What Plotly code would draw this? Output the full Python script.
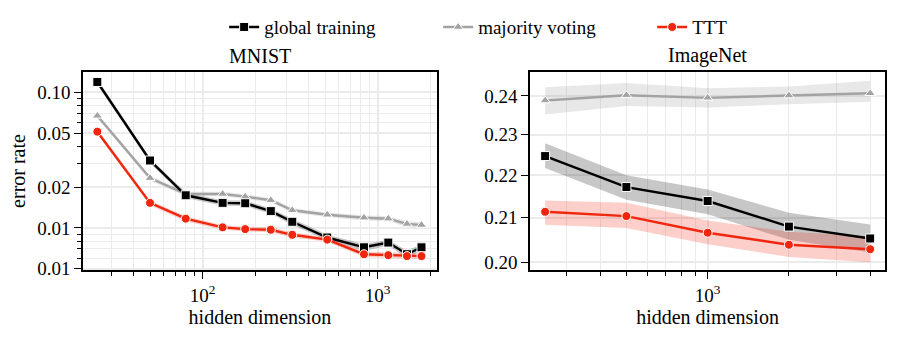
import plotly.graph_objects as go
from plotly.subplots import make_subplots

# MNIST panel
mnist_dims = [25, 50, 80, 130, 175, 245, 325, 515, 835, 1150, 1470, 1780]
mnist_global = [0.119, 0.0314, 0.0174, 0.0153, 0.0152, 0.0133, 0.0111, 0.0085, 0.0072, 0.0078, 0.0064, 0.0072]
mnist_global_lo = [0.114, 0.0300, 0.0166, 0.0146, 0.0145, 0.0127, 0.0105, 0.0081, 0.0068, 0.0074, 0.0060, 0.0068]
mnist_global_hi = [0.124, 0.0328, 0.0182, 0.0160, 0.0159, 0.0139, 0.0117, 0.0089, 0.0076, 0.0082, 0.0068, 0.0076]
mnist_major = [0.067, 0.0233, 0.0178, 0.0178, 0.0170, 0.0160, 0.0135, 0.0125, 0.0119, 0.0117, 0.0107, 0.0105]
mnist_major_lo = [0.0645, 0.0224, 0.0171, 0.0171, 0.0163, 0.0154, 0.0130, 0.0120, 0.0114, 0.0112, 0.0102, 0.0100]
mnist_major_hi = [0.0695, 0.0242, 0.0185, 0.0185, 0.0177, 0.0166, 0.0140, 0.0130, 0.0124, 0.0122, 0.0112, 0.0110]
mnist_ttt = [0.0512, 0.0153, 0.0117, 0.0101, 0.0098, 0.0097, 0.0089, 0.0082, 0.0064, 0.0063, 0.0062, 0.0062]
mnist_ttt_lo = [0.0492, 0.0147, 0.0112, 0.0097, 0.0094, 0.0093, 0.0085, 0.0079, 0.0061, 0.0060, 0.0059, 0.0059]
mnist_ttt_hi = [0.0532, 0.0159, 0.0122, 0.0105, 0.0102, 0.0101, 0.0093, 0.0085, 0.0067, 0.0066, 0.0065, 0.0065]

# ImageNet panel
imnet_dims = [250, 500, 1000, 2000, 4000]
imnet_global = [0.2247, 0.2172, 0.2139, 0.2080, 0.2053]
imnet_global_lo = [0.2218, 0.2142, 0.2108, 0.2050, 0.2022]
imnet_global_hi = [0.2279, 0.2200, 0.2166, 0.2112, 0.2085]
imnet_major = [0.2388, 0.2402, 0.2395, 0.2401, 0.2407]
imnet_major_lo = [0.2352, 0.2374, 0.2370, 0.2378, 0.2385]
imnet_major_hi = [0.2423, 0.2434, 0.2420, 0.2425, 0.2440]
imnet_ttt = [0.2114, 0.2104, 0.2066, 0.2039, 0.2029]
imnet_ttt_lo = [0.2084, 0.2077, 0.2040, 0.2012, 0.2000]
imnet_ttt_hi = [0.2140, 0.2135, 0.2094, 0.2068, 0.2058]

series_names = ["global training", "majority voting", "TTT"]
line_colors = ["#000000", "#a3a3a3", "#f0260e"]
band_colors = ["rgba(0,0,0,0.22)", "rgba(150,150,150,0.22)", "rgba(240,38,14,0.22)"]
symbols = ["square", "triangle-up", "circle"]

mnist_y_ticks = [0.1, 0.05, 0.02, 0.01, 0.005]
mnist_y_text = ["0.10", "0.05", "0.02", "0.01", "0.01"]
imnet_y_ticks = [0.20, 0.21, 0.22, 0.23, 0.24]

FONT = "Liberation Serif, Times New Roman, serif"
GRID = "#ebebeb"

fig = make_subplots(rows=1, cols=2, subplot_titles=["MNIST", "ImageNet"])

panels = [
    (1, mnist_dims,
     [mnist_global, mnist_major, mnist_ttt],
     [mnist_global_lo, mnist_major_lo, mnist_ttt_lo],
     [mnist_global_hi, mnist_major_hi, mnist_ttt_hi]),
    (2, imnet_dims,
     [imnet_global, imnet_major, imnet_ttt],
     [imnet_global_lo, imnet_major_lo, imnet_ttt_lo],
     [imnet_global_hi, imnet_major_hi, imnet_ttt_hi]),
]

for col, dims, vals, los, his in panels:
    # bands first so lines sit on top
    for i in [1, 0, 2]:
        fig.add_trace(
            go.Scatter(
                x=dims + dims[::-1],
                y=his[i] + los[i][::-1],
                fill="toself",
                fillcolor=band_colors[i],
                line=dict(width=0),
                mode="lines",
                hoverinfo="skip",
                showlegend=False,
            ),
            row=1, col=col,
        )
    for i in [1, 0, 2]:
        fig.add_trace(
            go.Scatter(
                x=dims,
                y=vals[i],
                name=series_names[i],
                mode="lines+markers",
                line=dict(color=line_colors[i], width=2.4),
                marker=dict(symbol=symbols[i], size=9,
                            color=line_colors[i],
                            line=dict(color="white", width=1)),
                showlegend=(col == 1),
                legendrank=i,
            ),
            row=1, col=col,
        )

axis_common = dict(
    showline=True, linecolor="black", linewidth=1.5, mirror=True,
    ticks="outside", ticklen=7, tickwidth=1.3, tickcolor="black",
    showgrid=True, gridcolor=GRID, gridwidth=1.5, zeroline=False,
    automargin=False,
    tickfont=dict(family=FONT, size=19, color="black"),
)
title_font = dict(family=FONT, size=20, color="black")
minor_style = dict(ticks="outside", ticklen=4, tickwidth=1, tickcolor="black",
                   showgrid=True, gridcolor=GRID, gridwidth=1.2)

fig.update_xaxes(
    axis_common, type="log", row=1, col=1,
    domain=[0.0, 0.4414],
    range=[1.316, 3.339],
    tickvals=[100, 1000], ticktext=["10<sup>2</sup>", "10<sup>3</sup>"],
    minor=dict(minor_style, tickvals=[30, 40, 50, 60, 70, 80, 90, 200, 300, 400, 500, 600, 700, 800, 900, 2000]),
    title=dict(text="hidden dimension", font=title_font, standoff=5),
)
fig.update_xaxes(
    axis_common, type="log", row=1, col=2,
    domain=[0.5574, 1.0],
    range=[2.342, 3.657],
    tickvals=[1000], ticktext=["10<sup>3</sup>"],
    minor=dict(minor_style, tickvals=[300, 400, 500, 600, 700, 800, 900, 2000, 3000, 4000]),
    title=dict(text="hidden dimension", font=title_font, standoff=5),
)
fig.update_yaxes(
    axis_common, type="log", row=1, col=1,
    domain=[0.0, 1.0],
    range=[-2.31, -0.851],
    tickvals=mnist_y_ticks, ticktext=mnist_y_text,
    minor=dict(minor_style, tickvals=[0.006, 0.007, 0.008, 0.009, 0.03, 0.04, 0.06, 0.07, 0.08, 0.09]),
    title=dict(text="error rate", font=title_font, standoff=6),
)
fig.update_yaxes(
    axis_common, type="log", row=1, col=2,
    domain=[0.0, 1.0],
    range=[-0.7026, -0.6084],
    tickvals=imnet_y_ticks, ticktext=["0.20", "0.21", "0.22", "0.23", "0.24"],
)

title_x = [0.4414 / 2, (0.5574 + 1.0) / 2]
for ann, tx in zip(fig.layout.annotations, title_x):
    ann.font = title_font
    ann.x = tx
    ann.y = 1.0
    ann.yanchor = "bottom"
    ann.yshift = 3

fig.update_layout(
    width=897, height=339,
    margin=dict(l=83, r=12, t=72, b=69),
    plot_bgcolor="white", paper_bgcolor="white",
    font=dict(family=FONT, size=19, color="black"),
    legend=dict(
        orientation="h", x=0.176, xanchor="left",
        yref="container", y=0.92, yanchor="middle",
        font=dict(family=FONT, size=19, color="black"),
        entrywidth=169, entrywidthmode="pixels",
        traceorder="normal",
    ),
    showlegend=True,
)

# the page body has a default 8px margin; drop it so the figure sits at 0,0
fig.write_html(
    "out.html",
    config={"displayModeBar": False},
    post_script="document.body.style.margin='0';",
)
